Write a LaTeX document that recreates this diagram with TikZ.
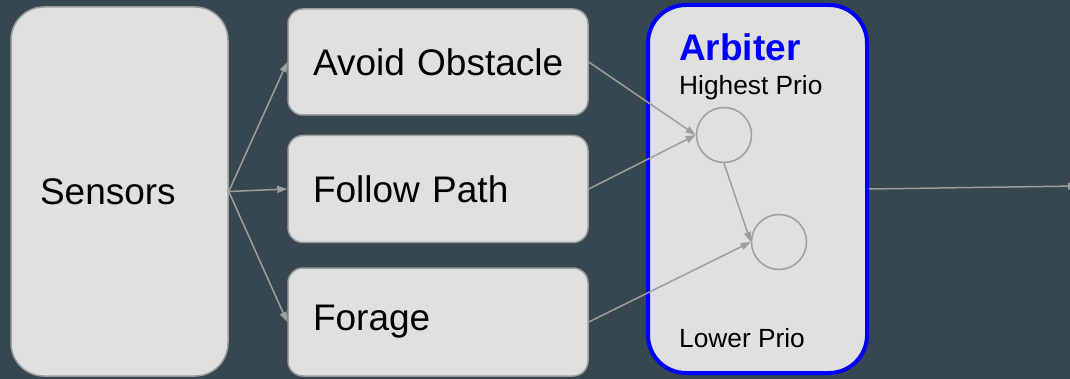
\documentclass[tikz,border=0pt]{standalone}
\usepackage{fontspec}
\setmainfont{Liberation Sans}
\usetikzlibrary{arrows.meta}
\definecolor{bg}{HTML}{37474F}
\definecolor{boxfill}{HTML}{E0E0E0}
\definecolor{edge}{HTML}{9E9E9E}
\definecolor{arbblue}{HTML}{0000FF}
\hbadness=10000 \hfuzz=50pt
\tikzset{
  box/.style={draw=edge, line width=1.5pt, fill=boxfill, rectangle, align=left,
    font=\fontsize{37}{44}\selectfont, text=black},
  behav/.style={box, rounded corners=15pt, minimum width=300pt, text width=250pt, inner xsep=25pt},
  prio/.style={draw=edge, line width=1.5pt, circle, minimum size=55pt, inner sep=0pt},
  small/.style={font=\fontsize{26.3}{30}\selectfont, text=black, inner sep=0pt},
  link/.style={draw=edge, line width=1.5pt, -{Triangle[length=10pt,width=7pt]}}
}
\begin{document}
\begin{tikzpicture}[x=1pt, y=-1pt]
  \fill[bg] (0,0) rectangle (1070,379);
  \useasboundingbox (0,0) rectangle (1070,379);

  % input block
  \node[box, rounded corners=33pt, minimum width=217pt, minimum height=369pt,
        text width=159pt, inner xsep=29pt] (sensors) at (119.5,191.5) {Sensors};

  % behaviours
  \node[behav, minimum height=106pt] (avoid)  at (438,62)    {\mbox{Avoid Obstacle}};
  \node[behav, minimum height=107pt] (follow) at (438,189)   {Follow Path};
  \node[behav, minimum height=108pt] (forage) at (438,322)   {\raisebox{-3pt}{Forage}};

  % arbiter block
  \node[draw=arbblue, line width=4pt, fill=boxfill, rounded corners=38pt,
        minimum width=219pt, minimum height=368pt] (arbiter) at (757.5,189) {};
  \node[anchor=base west, inner sep=0pt, text=arbblue,
        font=\fontsize{37}{44}\selectfont\bfseries] (title) at (679,61) {Arbiter};
  \node[small, anchor=base west] (high) at (679,95) {Highest Prio};
  \node[small, anchor=base west] (low) at (679,347) {Lower Prio};

  % priority slots
  \node[prio] (c1) at (724,135) {};
  \node[prio] (c2) at (779,242) {};

  % connectors
  \draw[link] (sensors.east) -- (avoid.west);
  \draw[link] (sensors.east) -- (follow.west);
  \draw[link] (sensors.east) -- (forage.west);
  \draw[link] (avoid.east) -- (c1.west);
  \draw[link] (follow.east) -- (c1.west);
  \draw[link] (forage.east) -- (c2.west);
  \draw[link] (c1.south) -- (c2.west);
  \coordinate (out) at (1078,186);
  \draw[link] (arbiter.east) -- (out);
\end{tikzpicture}
\end{document}
